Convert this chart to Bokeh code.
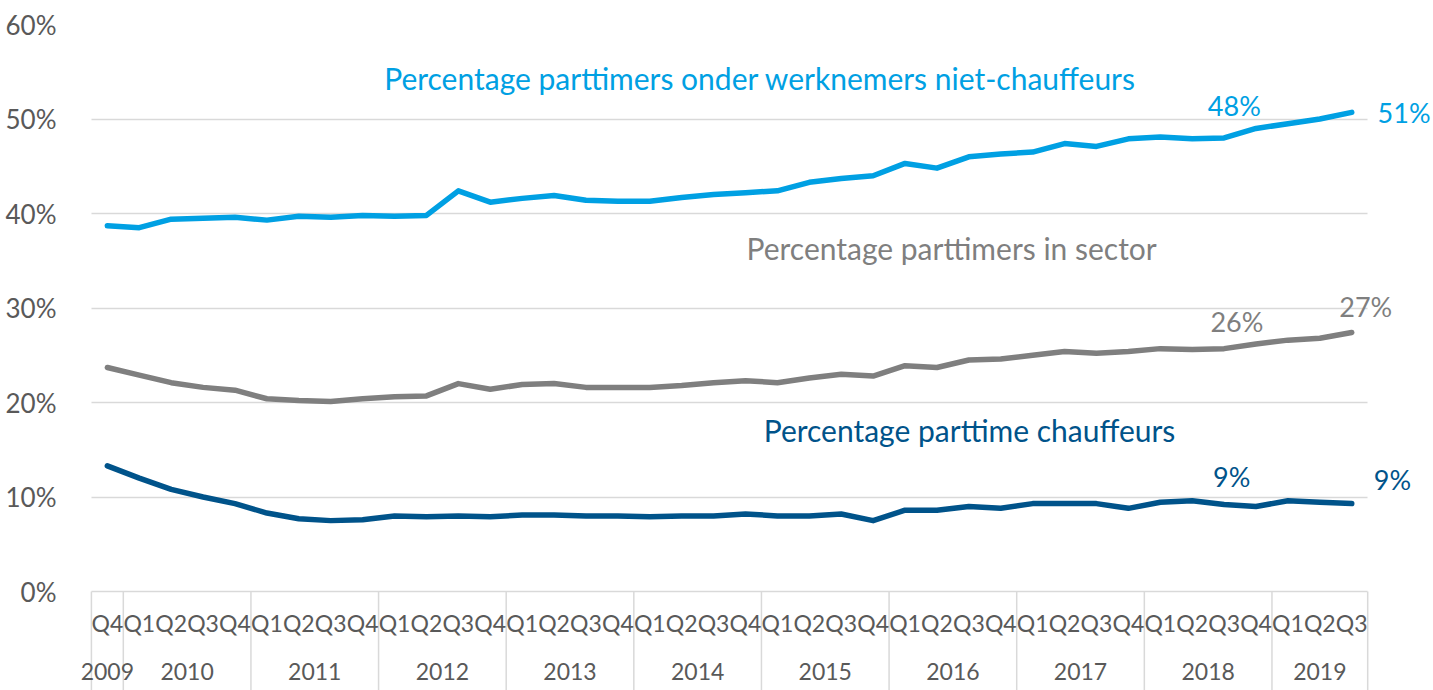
from bokeh.plotting import figure
from bokeh.models import FactorRange, Range1d, FixedTicker, PrintfTickFormatter, Label
from bokeh.embed import file_html
from bokeh.resources import INLINE

years = ["2009"] + ["2010"] * 4 + ["2011"] * 4 + ["2012"] * 4 + ["2013"] * 4 + ["2014"] * 4 + \
        ["2015"] * 4 + ["2016"] * 4 + ["2017"] * 4 + ["2018"] * 4 + ["2019"] * 3
quarters = ["Q4"] + ["Q1", "Q2", "Q3", "Q4"] * 9 + ["Q1", "Q2", "Q3"]

niet_chauffeurs = [38.7, 38.5, 39.4, 39.5, 39.6, 39.3, 39.7, 39.6, 39.8, 39.7, 39.8, 42.4, 41.2,
                   41.6, 41.9, 41.4, 41.3, 41.3, 41.7, 42.0, 42.2, 42.4, 43.3, 43.7, 44.0,
                   45.3, 44.8, 46.0, 46.3, 46.5, 47.4, 47.1, 47.9, 48.1, 47.9, 48.0, 49.0,
                   49.5, 50.0, 50.7]
sector = [23.7, 22.9, 22.1, 21.6, 21.3, 20.4, 20.2, 20.1, 20.4, 20.6, 20.7, 22.0, 21.4,
          21.9, 22.0, 21.6, 21.6, 21.6, 21.8, 22.1, 22.3, 22.1, 22.6, 23.0, 22.8,
          23.9, 23.7, 24.5, 24.6, 25.0, 25.4, 25.2, 25.4, 25.7, 25.6, 25.7, 26.2,
          26.6, 26.8, 27.4]
chauffeurs = [13.3, 12.0, 10.8, 10.0, 9.3, 8.3, 7.7, 7.5, 7.6, 8.0, 7.9, 8.0, 7.9,
              8.1, 8.1, 8.0, 8.0, 7.9, 8.0, 8.0, 8.2, 8.0, 8.0, 8.2, 7.5,
              8.6, 8.6, 9.0, 8.8, 9.3, 9.3, 9.3, 8.8, 9.45, 9.6, 9.2, 9.0,
              9.6, 9.45, 9.3]

y_ticks = [0, 10, 20, 30, 40, 50, 60]

LIGHT = "#00A0E3"
GREY = "#7F7F7F"
DARK = "#00538A"
AXIS_TXT = "#595959"
GRID = "#D9D9D9"
FONT = "Lato"

factors = list(zip(years, quarters))
n = len(factors)
# blank padding slots (left: 1, right: 2) so the end labels are not clipped
lead = [(" ", " ")]
trail = [("  ", "  "), ("  ", "   ")]
OFF = len(lead)
all_factors = lead + factors + trail

x_range = FactorRange(*all_factors, group_padding=0, factor_padding=0, range_padding=0)

W, H = 1433, 690
TOP = 24
PLOT_H = 567  # pixels between 60% and 0%
y_min = -(H - TOP - PLOT_H) / PLOT_H * 60

p = figure(width=W, height=H, output_backend="svg", toolbar_location=None,
           x_range=x_range, y_range=Range1d(y_min, 60),
           min_border_left=59, min_border_right=2, min_border_top=TOP, min_border_bottom=0)
p.outline_line_color = None
p.background_fill_color = "white"

# year separators below the 0% line
bounds = [0] + [i for i in range(1, n) if years[i] != years[i - 1]] + [n]
p.segment(x0=[b + OFF for b in bounds], y0=0, x1=[b + OFF for b in bounds], y1=-20,
          line_color=GRID, line_width=1.5)

p.line(factors, niet_chauffeurs, line_color=LIGHT, line_width=5.5, line_join="round", line_cap="round")
p.line(factors, sector, line_color=GREY, line_width=5.5, line_join="round", line_cap="round")
p.line(factors, chauffeurs, line_color=DARK, line_width=5.5, line_join="round", line_cap="round")

# y axis
ya = p.yaxis[0]
ya.ticker = FixedTicker(ticks=y_ticks)
ya.formatter = PrintfTickFormatter(format="%d%%")
ya.axis_line_color = None
ya.major_tick_line_color = None
ya.minor_tick_line_color = None
ya.major_tick_out = 0
ya.major_tick_in = 0
ya.major_label_standoff = 3
ya.major_label_text_font = FONT
ya.major_label_text_font_size = "26px"
ya.major_label_text_color = AXIS_TXT

p.ygrid.grid_line_color = GRID
p.ygrid.grid_line_width = 1.5
p.ygrid.cross_bounds = (OFF, OFF + n)
p.xgrid.grid_line_color = None

# x axis drawn at the 0% line
xa = p.xaxis[0]
xa.fixed_location = 0
xa.axis_line_color = None
xa.major_tick_line_color = None
xa.minor_tick_line_color = None
xa.major_tick_out = 0
xa.major_tick_in = 0
xa.major_label_text_font = FONT
xa.major_label_text_font_size = "23px"
xa.major_label_text_color = AXIS_TXT
xa.major_label_standoff = 17
xa.group_text_font = FONT
xa.group_text_font_size = "23px"
xa.group_text_font_style = "normal"
xa.group_text_color = AXIS_TXT
xa.separator_line_color = None

# series labels (y lifted to compensate the renderer's baseline offset)
LIFT = 1.15
def lab(txt, x, y, color, size, align="center"):
    p.add_layout(Label(x=x + OFF, y=y + LIFT, text=txt, text_color=color, text_font=FONT,
                       text_font_size=size, text_align=align, text_baseline="alphabetic"))

lab("Percentage parttimers onder werknemers niet-chauffeurs", 20.96, 53.2, LIGHT, "30px")
lab("Percentage parttimers in sector", 26.96, 35.2, GREY, "30px")
lab("Percentage parttime chauffeurs", 27.52, 15.9, DARK, "30px")
lab("48%", 35.82, 50.26, LIGHT, "27px")
lab("51%", 40.31, 49.5, LIGHT, "27px", "left")
lab("26%", 35.9, 27.44, GREY, "27px")
lab("27%", 39.94, 28.96, GREY, "27px")
lab("9%", 35.74, 10.97, DARK, "27px")
lab("9%", 40.19, 10.69, DARK, "27px", "left")

open("out.html", "w").write(file_html(p, INLINE))
